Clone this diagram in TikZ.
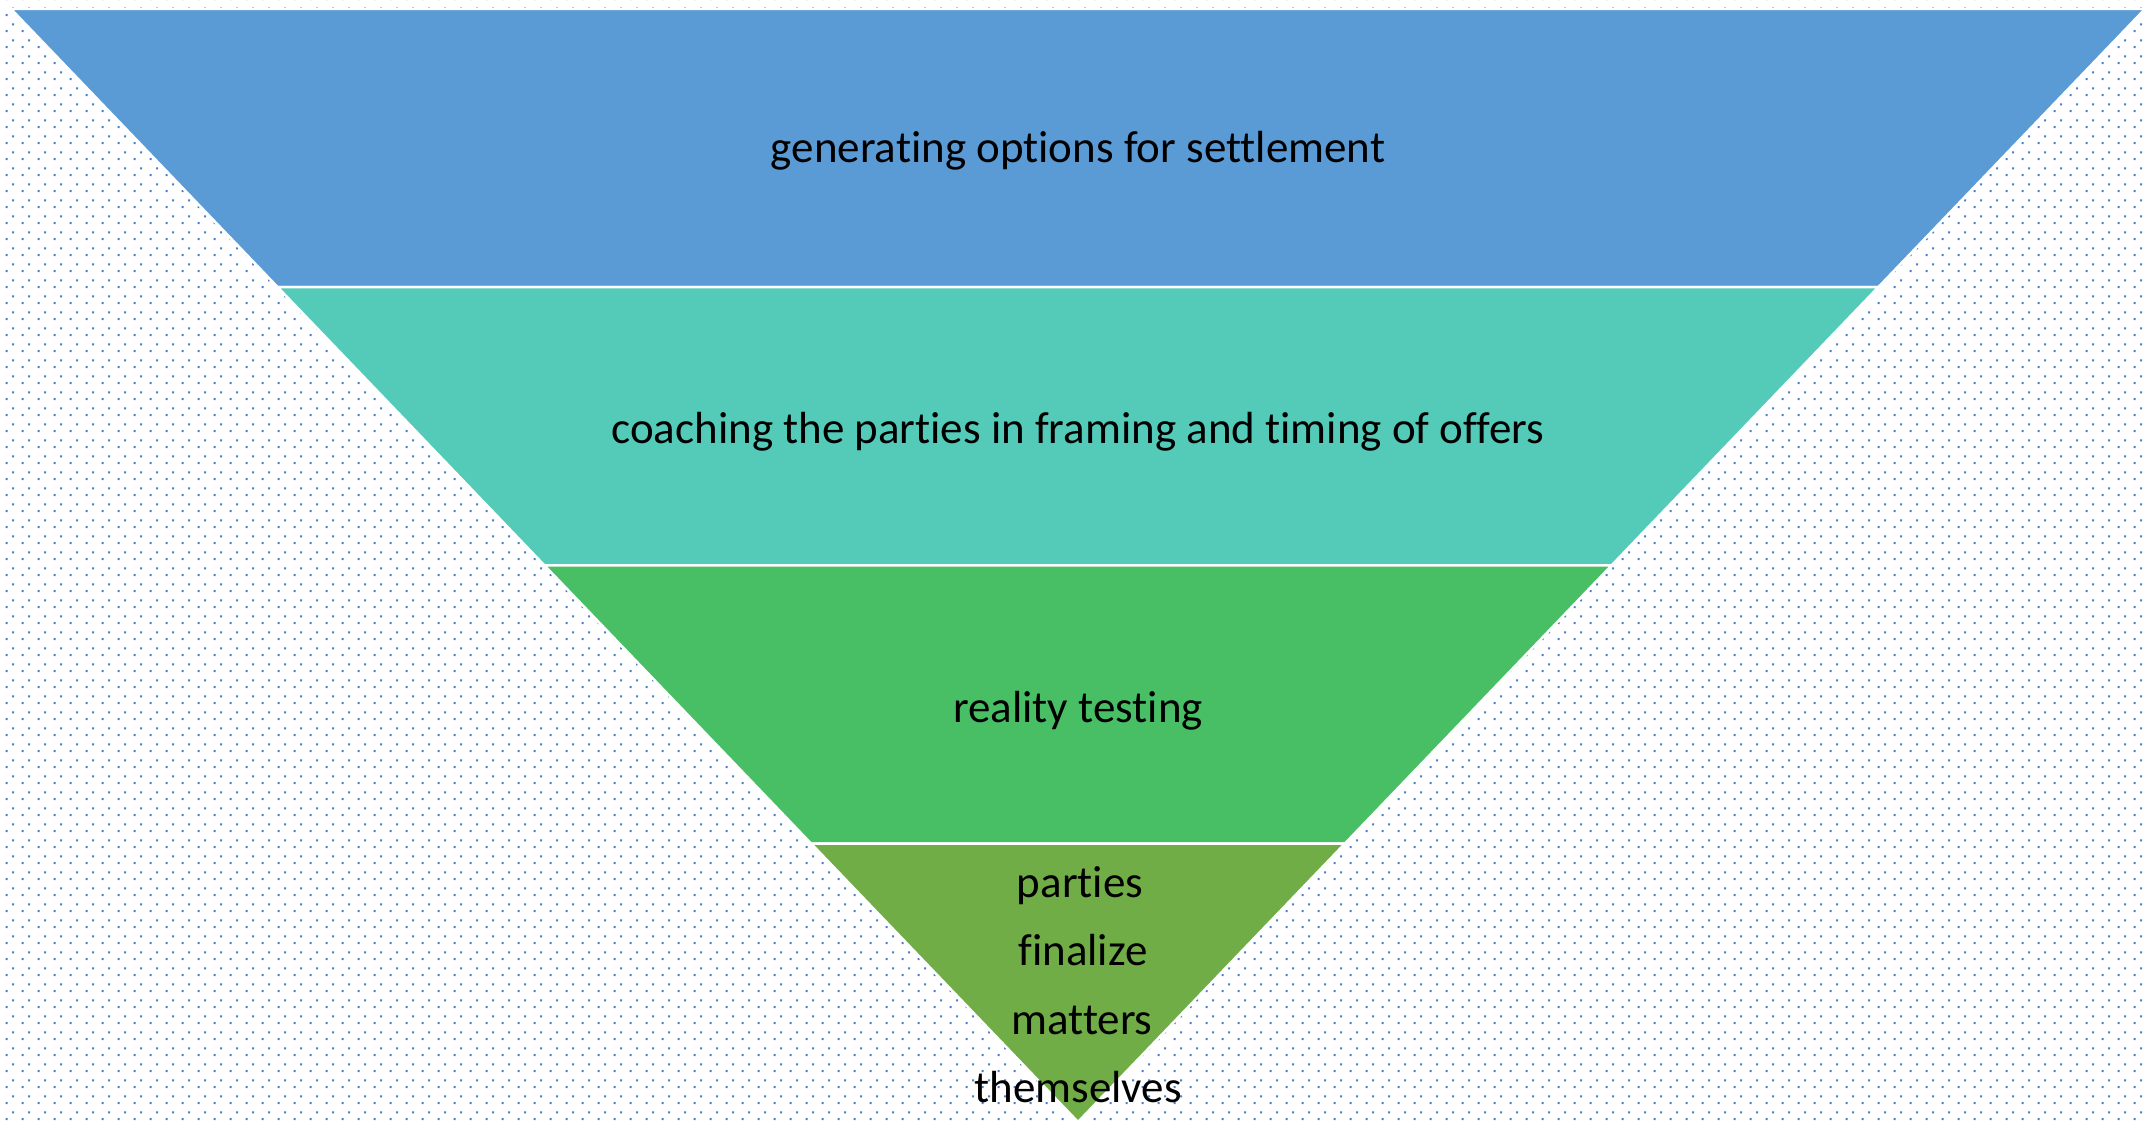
\documentclass[tikz,border=0pt]{standalone}
\usepackage{fontspec}
\setmainfont{Carlito}[Ligatures=NoCommon]
\usetikzlibrary{calc,patterns}
\definecolor{dotblue}{HTML}{4F7BCC}
\definecolor{bandA}{HTML}{5B9BD5}
\definecolor{bandB}{HTML}{53CBB8}
\definecolor{bandC}{HTML}{49BF65}
\definecolor{bandD}{HTML}{70AD47}
\pgfdeclarepatternformonly{bgdots}{\pgfpointorigin}{\pgfpoint{16pt}{16pt}}{\pgfpoint{16pt}{16pt}}{%
  \pgfpathrectangle{\pgfpoint{7pt}{1pt}}{\pgfpoint{2.1pt}{2.1pt}}%
  \pgfpathrectangle{\pgfpoint{14pt}{8pt}}{\pgfpoint{2.1pt}{2.1pt}}%
  \pgfusepath{fill}}
\tikzset{
  band/.style={draw=white, line width=2.5pt, line join=miter},
  lbl/.style={font=\fontsize{45}{54}\selectfont, text=black, anchor=base, inner sep=0pt}
}
\begin{document}
\begin{tikzpicture}[x=1pt,y=1pt]
\useasboundingbox (0,0) rectangle (2146,1121);
\fill[white] (0,0) rectangle (2146,1121);
\fill[pattern=bgdots, pattern color=dotblue] (0,0) rectangle (2146,1121);
\coordinate (L) at (11,1112);
\coordinate (R) at (2145,1112);
\coordinate (T) at (1078,-1);
\coordinate (L1) at ($(L)!0.25!(T)$);
\coordinate (R1) at ($(R)!0.25!(T)$);
\coordinate (L2) at ($(L)!0.5!(T)$);
\coordinate (R2) at ($(R)!0.5!(T)$);
\coordinate (L3) at ($(L)!0.75!(T)$);
\coordinate (R3) at ($(R)!0.75!(T)$);
\filldraw[band, fill=bandA] (L) -- (R) -- (R1) -- (L1) -- cycle;
\filldraw[band, fill=bandB] (L1) -- (R1) -- (R2) -- (L2) -- cycle;
\filldraw[band, fill=bandC] (L2) -- (R2) -- (R3) -- (L3) -- cycle;
\filldraw[band, fill=bandD] (L3) -- (R3) -- (T) -- cycle;
\node[lbl] (t1) at (1078,958) {generating options for settlement};
\node[lbl] (t2) at (1078,677) {coaching the parties in framing and timing of offers};
\node[lbl] (t3) at (1078,398) {reality testing};
\node[lbl] (t4) at (1080,223) {parties};
\node[lbl] (t5) at (1083,155) {finalize};
\node[lbl] (t6) at (1082,86) {matters};
\node[lbl] (t7) at (1078,18) {themselves};
\end{tikzpicture}
\end{document}
